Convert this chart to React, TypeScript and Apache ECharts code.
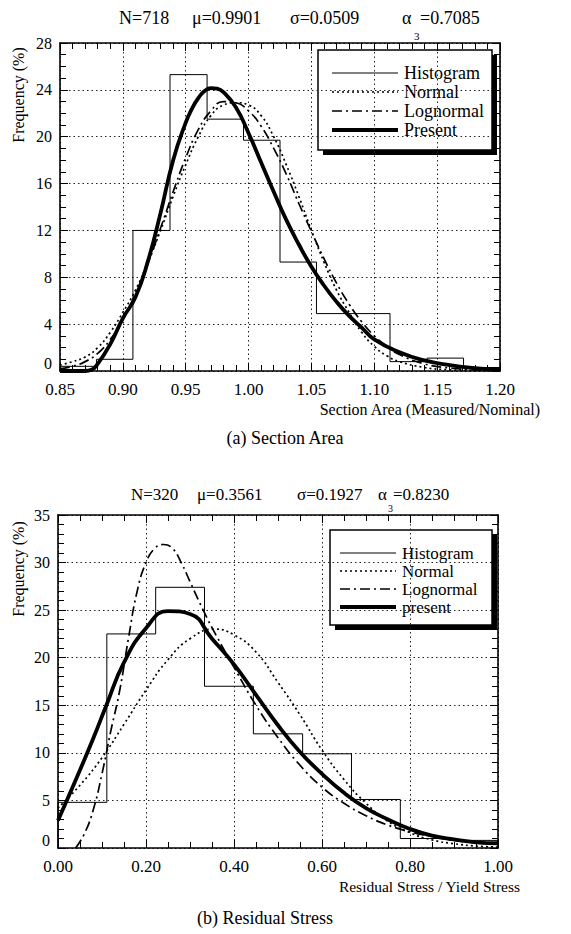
import React, { useEffect, useRef } from "react";
import * as echarts from "echarts";

// ---------- (a) Section Area ----------
const secEdges = [0.85, 0.879, 0.908, 0.9375, 0.967, 0.996, 1.025, 1.054, 1.083, 1.1125, 1.142, 1.171, 1.2];
const secHist = [0.4, 1.0, 12.0, 25.3, 21.5, 19.7, 9.3, 4.9, 4.9, 0.8, 1.1, 0.3];

const secNormalX = [0.85, 0.86, 0.87, 0.88, 0.89, 0.9, 0.91, 0.92, 0.93, 0.94, 0.95, 0.96, 0.97, 0.98, 0.99, 1.0, 1.01, 1.02, 1.03, 1.04, 1.05, 1.06, 1.07, 1.08, 1.09, 1.1, 1.11, 1.12, 1.14, 1.16, 1.18, 1.2];
const secNormalY = [0.5, 0.8, 1.2, 2.0, 3.3, 5.0, 6.9, 9.3, 12.0, 14.9, 17.6, 20.0, 21.8, 22.7, 22.9, 22.7, 21.8, 20.0, 17.6, 14.9, 12.0, 9.3, 6.9, 5.0, 3.3, 2.1, 1.3, 0.8, 0.3, 0.1, 0.05, 0.0];

const secLogX = [0.85, 0.86, 0.87, 0.88, 0.89, 0.9, 0.91, 0.92, 0.93, 0.94, 0.95, 0.96, 0.97, 0.98, 0.99, 1.0, 1.01, 1.02, 1.03, 1.04, 1.05, 1.06, 1.07, 1.08, 1.09, 1.1, 1.11, 1.12, 1.14, 1.16, 1.18, 1.2];
const secLogY = [0.2, 0.4, 0.8, 1.5, 2.7, 4.4, 6.6, 9.2, 12.2, 15.3, 18.2, 20.6, 22.2, 23.0, 22.9, 22.2, 20.9, 19.0, 16.8, 14.3, 11.9, 9.6, 7.5, 5.7, 4.2, 3.0, 2.1, 1.4, 0.6, 0.25, 0.1, 0.03];

const secPresX = [0.85, 0.87, 0.875, 0.88, 0.89, 0.9, 0.91, 0.92, 0.93, 0.94, 0.95, 0.955, 0.96, 0.965, 0.97, 0.975, 0.98, 0.99, 1.0, 1.01, 1.02, 1.03, 1.04, 1.05, 1.06, 1.07, 1.08, 1.09, 1.1, 1.12, 1.14, 1.16, 1.18, 1.2];
const secPresY = [0.0, 0.0, 0.1, 0.6, 2.3, 4.5, 6.3, 9.4, 13.5, 18.0, 21.2, 22.4, 23.3, 23.9, 24.15, 24.1, 23.8, 22.5, 20.3, 17.8, 15.3, 12.9, 10.8, 8.9, 7.3, 5.9, 4.7, 3.7, 2.7, 1.6, 0.9, 0.5, 0.25, 0.1];

const secXTicks = { min: 0.85, max: 1.2, interval: 0.05 };
const secYTicks = { min: 0, max: 28, interval: 4 };

// ---------- (b) Residual Stress ----------
const resEdges = [0, 0.111, 0.222, 0.333, 0.444, 0.556, 0.667, 0.778, 0.889, 1.0];
const resHist = [4.8, 22.5, 27.4, 17.0, 12.0, 9.9, 5.1, 1.0, 0.8];

const resNormalX = [0, 0.05, 0.1, 0.15, 0.2, 0.25, 0.3, 0.356, 0.4, 0.45, 0.5, 0.55, 0.6, 0.65, 0.7, 0.75, 0.8, 0.85, 0.9, 0.95, 1.0];
const resNormalY = [4.2, 6.6, 9.5, 13.0, 16.6, 19.8, 22.0, 23.0, 22.4, 20.6, 17.4, 14.0, 10.3, 7.2, 4.7, 2.8, 1.6, 0.85, 0.45, 0.2, 0.1];

const resLogX = [0.04, 0.06, 0.08, 0.1, 0.12, 0.14, 0.16, 0.18, 0.2, 0.22, 0.24, 0.26, 0.28, 0.3, 0.33, 0.36, 0.4, 0.45, 0.5, 0.55, 0.6, 0.65, 0.7, 0.75, 0.8, 0.85, 0.9, 0.95, 1.0];
const resLogY = [0.0, 1.5, 4.0, 7.8, 12.3, 16.5, 22.0, 27.0, 30.0, 31.5, 31.9, 31.5, 30.0, 28.0, 25.0, 22.3, 19.0, 15.0, 11.6, 8.7, 6.4, 4.7, 3.4, 2.4, 1.7, 1.2, 0.8, 0.55, 0.4];

const resPresX = [0, 0.02, 0.05, 0.08, 0.11, 0.15, 0.2, 0.25, 0.3, 0.35, 0.4, 0.45, 0.5, 0.55, 0.6, 0.65, 0.7, 0.75, 0.8, 0.85, 0.9, 0.95, 1.0];
const resPresY = [2.9, 5.0, 8.2, 11.5, 15.0, 19.5, 23.1, 24.9, 24.6, 22.0, 19.3, 16.1, 12.9, 10.1, 7.8, 5.8, 4.2, 3.0, 2.0, 1.3, 0.9, 0.6, 0.5];

const resXTicks = { min: 0, max: 1, interval: 0.2 };
const resYTicks = { min: 0, max: 35, interval: 5 };

const legendNames = ["Histogram", "Normal", "Lognormal", "Present"];
const legendNamesB = ["Histogram", "Normal", "Lognormal", "present"];

const FONT = "Liberation Serif, Times New Roman, serif";

const zip = (xs: number[], ys: number[]) => xs.map((x, i) => [x, ys[i]]);
const stepData = (edges: number[], h: number[]) => {
  const d: number[][] = [[edges[0], 0]];
  h.forEach((v, i) => {
    d.push([edges[i], v]);
    d.push([edges[i + 1], v]);
  });
  d.push([edges[edges.length - 1], 0]);
  return d;
};

const styles: any = {
  hist: { width: 1, type: "solid" },
  normal: { width: 1.7, type: [2, 3] },
  log: { width: 1.7, type: [10, 4, 2, 4] },
  pres: { width: 3.8, type: "solid" },
};

function makeX(gridIndex: number, t: any, top: boolean, minorSplit: number) {
  return {
    type: "value",
    gridIndex,
    position: top ? "top" : "bottom",
    min: t.min,
    max: t.max,
    interval: t.interval,
    axisLine: { show: true, onZero: false, lineStyle: { color: "#000", width: 1.6 } },
    axisTick: { show: true, inside: true, length: 8, lineStyle: { color: "#000", width: 1 } },
    minorTick: { show: true, splitNumber: minorSplit, length: 6, lineStyle: { color: "#000", width: 1 } },
    axisLabel: {
      show: !top,
      color: "#000",
      fontFamily: FONT,
      fontSize: 17,
      margin: 10,
      formatter: (v: number) => v.toFixed(2),
    },
    splitLine: top ? { show: false } : { show: true, lineStyle: { color: "#222", type: [1.5, 3], width: 1 } },
  };
}

function makeY(gridIndex: number, t: any, right: boolean, minorSplit: number) {
  return {
    type: "value",
    gridIndex,
    position: right ? "right" : "left",
    min: t.min,
    max: t.max,
    interval: t.interval,
    axisLine: { show: true, onZero: false, lineStyle: { color: "#000", width: 1.6 } },
    axisTick: { show: true, inside: true, length: 8, lineStyle: { color: "#000", width: 1 } },
    minorTick: { show: true, splitNumber: minorSplit, length: 6, lineStyle: { color: "#000", width: 1 } },
    axisLabel: { show: !right, color: "#000", fontFamily: FONT, fontSize: 16, margin: 8, verticalAlignMinLabel: "bottom" },
    splitLine: right ? { show: false } : { show: true, lineStyle: { color: "#222", type: [1.5, 3], width: 1 } },
  };
}

function series(xi: number, yi: number, hist: number[][], normal: number[][], log: number[][], pres: number[][]) {
  const base = { type: "line", xAxisIndex: xi, yAxisIndex: yi, symbol: "none", showSymbol: false, silent: true };
  return [
    { ...base, name: "Histogram", data: hist, lineStyle: { color: "#000", ...styles.hist } },
    { ...base, name: "Normal", data: normal, smooth: true, lineStyle: { color: "#000", ...styles.normal } },
    { ...base, name: "Lognormal", data: log, smooth: true, lineStyle: { color: "#000", ...styles.log } },
    { ...base, name: "Present", data: pres, smooth: true, lineStyle: { color: "#000", ...styles.pres } },
  ];
}

function legendBox(
  x: number, y: number, w: number, h: number, names: string[],
  rowY0: number, rowGap: number, fs: number, lx1: number, lx2: number, tx: number
) {
  const els: any[] = [
    { type: "rect", shape: { x: x + 5, y: y + 5, width: w, height: h }, style: { fill: "#000" } },
    { type: "rect", shape: { x, y, width: w, height: h }, style: { fill: "#fff", stroke: "#000", lineWidth: 1.5 } },
  ];
  const st = [styles.hist, styles.normal, styles.log, styles.pres];
  names.forEach((n, i) => {
    const ry = y + rowY0 + i * rowGap;
    els.push({
      type: "line",
      shape: { x1: lx1, y1: ry, x2: lx2, y2: ry },
      style: { stroke: "#000", lineWidth: st[i].width, lineDash: st[i].type === "solid" ? null : st[i].type },
    });
    els.push({
      type: "text",
      x: tx,
      y: ry,
      style: { text: n, fontFamily: FONT, fontSize: fs, fill: "#000", textAlign: "left", textVerticalAlign: "middle" },
    });
  });
  return els;
}

function txt(x: number, y: number, text: string, fs: number, extra: any = {}, rotation = 0) {
  return {
    type: "text",
    x,
    y,
    rotation,
    style: { text, fontFamily: FONT, fontSize: fs, fill: "#000", textAlign: "left", textVerticalAlign: "middle", ...extra },
  };
}

export default function App() {
  const ref = useRef<HTMLDivElement>(null);
  useEffect(() => {
    if (!ref.current) return;
    const chart = echarts.init(ref.current, null, { renderer: "svg" });
    const option: any = {
      animation: false,
      backgroundColor: "#fff",
      grid: [
        { left: 60, top: 43, width: 440, height: 328 },
        { left: 58, top: 515, width: 440, height: 333 },
      ],
      xAxis: [makeX(0, secXTicks, false, 5), makeX(0, secXTicks, true, 5), makeX(1, resXTicks, false, 4), makeX(1, resXTicks, true, 4)],
      yAxis: [makeY(0, secYTicks, false, 4), makeY(0, secYTicks, true, 4), makeY(1, resYTicks, false, 5), makeY(1, resYTicks, true, 5)],
      series: [
        ...series(0, 0, stepData(secEdges, secHist), zip(secNormalX, secNormalY), zip(secLogX, secLogY), zip(secPresX, secPresY)),
        ...series(2, 2, stepData(resEdges, resHist), zip(resNormalX, resNormalY), zip(resLogX, resLogY), zip(resPresX, resPresY)),
      ],
      graphic: [
        // (a)
        txt(119, 18, "N=718", 18),
        txt(192, 18, "μ=0.9901", 18),
        txt(290, 18, "σ=0.0509", 18),
        txt(402, 18, "α", 18),
        txt(414, 36, "3", 11),
        txt(420, 18, "=0.7085", 18),
        txt(18, 95, "Frequency (%)", 16, { textAlign: "center" }, Math.PI / 2),
        txt(540, 409, "Section Area (Measured/Nominal)", 16, { textAlign: "right" }),
        txt(285, 438, "(a) Section Area", 18, { textAlign: "center" }),
        // (b)
        txt(131, 494, "N=320", 17),
        txt(197, 494, "μ=0.3561", 17),
        txt(297, 494, "σ=0.1927", 17),
        txt(378, 494, "α", 17),
        txt(388, 508, "3", 10),
        txt(393, 494, "=0.8230", 17),
        txt(18, 569, "Frequency (%)", 16, { textAlign: "center" }, Math.PI / 2),
        txt(520, 886, "Residual Stress / Yield Stress", 15.5, { textAlign: "right" }),
        txt(265, 918, "(b) Residual Stress", 18, { textAlign: "center" }),
        ...legendBox(318, 50, 174, 100, legendNames, 23, 19, 18, 332, 398, 404),
        ...legendBox(330, 530, 162, 95, legendNamesB, 23, 18, 17, 340, 396, 402),
      ],
    };
    chart.setOption(option);
    return () => chart.dispose();
  }, []);
  return <div ref={ref} style={{ position: "absolute", left: 0, top: 0, width: 571, height: 934 }} />;
}
